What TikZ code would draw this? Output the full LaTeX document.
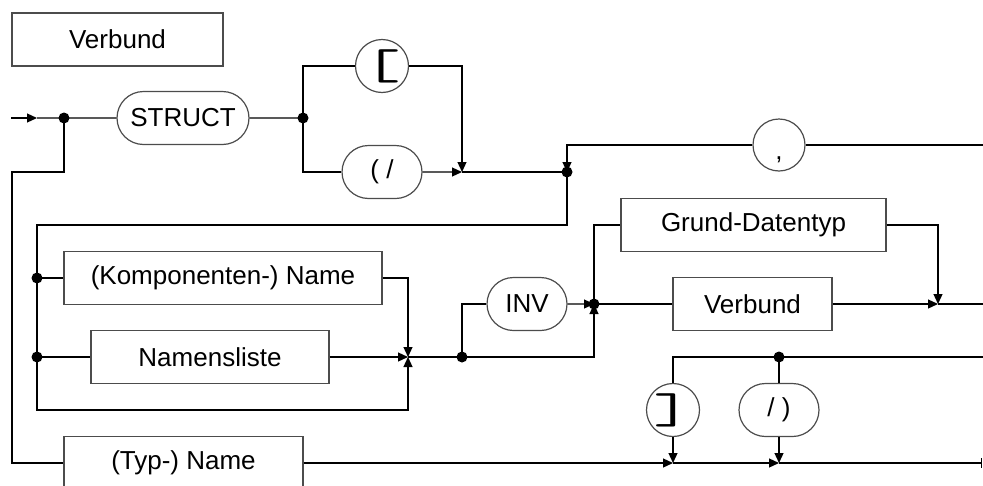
\documentclass[tikz,border=0pt]{standalone}
\usepackage{fontspec}
\setmainfont{Liberation Sans}
\usepackage{graphicx}
\usetikzlibrary{shapes.misc, arrows.meta}

\begin{document}
\begin{tikzpicture}[
    x=1pt, y=-1pt,
    line width=1.2pt,
    every node/.style={font=\fontsize{26}{30}\selectfont, inner sep=0pt},
    block/.style={rectangle, draw=black!70, fill=white,
                  minimum height=53pt, align=center},
    pill/.style={rounded rectangle, draw=black!70, fill=white,
                 minimum width=80pt, minimum height=53pt},
    token/.style={circle, draw=black!70, fill=white, minimum size=53pt},
    brk/.style={font=\fontsize{26}{30}\selectfont\ttfamily},
    arrow/.style={-{Triangle[length=10pt, width=9pt]}},
    endbar/.style={-{Bar[width=10pt]}},
]
\useasboundingbox (0,0) rectangle (983,485);

%% --- Title ---
\node[block, minimum width=211pt] (title) at (117.5,39.5) {Verbund};

%% --- Branch points and joins ---
\coordinate (in)  at (11,118);
\coordinate (inA) at (37,118);
\coordinate (d1)  at (64,118);
\coordinate (d2)  at (303,118);
\coordinate (j1)  at (462,172);
\coordinate (d3)  at (567,172);
\coordinate (lt)  at (37,225);
\coordinate (lb)  at (37,410);
\coordinate (d4)  at (37,278);
\coordinate (d5)  at (37,357);
\coordinate (j2)  at (408,357);
\coordinate (d6)  at (462,357);
\coordinate (d7)  at (594,304);
\coordinate (j3)  at (938,304);
\coordinate (d8)  at (779,357);
\coordinate (j4)  at (673,463);
\coordinate (j5)  at (779,463);
\coordinate (ol)  at (12,172);
\coordinate (cR)  at (983,145);
\coordinate (vR)  at (983,304);
\coordinate (rR)  at (983,357);
\coordinate (tR)  at (982,463);

%% --- Terminals and boxes ---
\node[pill, minimum width=132pt] (struct) at (183,118) {STRUCT};
\node[token, brk] (lbrack) at (382,66) {\scalebox{2.9}[1.65]{[}};
\node[pill] (open) at (382,172) {( /};
\node[token, minimum size=52pt] (comma) at (779,145) {\smash{\raisebox{-14pt}{,}}};
\node[block, minimum width=318pt] (komp) at (223,278) {(Komponenten-) Name};
\node[block, minimum width=238pt] (namen) at (210,357) {Namensliste};
\node[pill] (inv) at (527,304) {INV};
\node[block, minimum width=265pt] (grund) at (753.5,225) {Grund-Datentyp};
\node[block, minimum width=159pt] (verb) at (752.5,304) {Verbund};
\node[token, brk] (rbrack) at (673,410) {\scalebox{2.9}[1.65]{]}};
\node[pill, minimum width=80pt] (close) at (779,410) {/ )};
\node[block, minimum width=239pt] (typ) at (183.5,463) {(Typ-) Name};

%% --- STRUCT and opening bracket ---
\draw[arrow] (in) -- (inA);
\draw (inA) -- (struct) -- (d2);
\draw (d2) |- (lbrack);
\draw[arrow] (lbrack) -| (j1);
\draw (d2) |- (open);
\draw[arrow] (open) -- (j1);
\draw (j1) -- (d3);

%% --- Repeat with comma ---
\draw (cR) -- (comma);
\draw[arrow] (comma) -| (d3);

%% --- Component names ---
\draw[arrow] (d3) |- (lt) -- (lb) -| (j2);
\draw (d4) -- (komp);
\draw[arrow] (komp) -| (j2);
\draw (d5) -- (namen);
\draw[arrow] (namen) -- (j2);
\draw (j2) -- (d6);

%% --- INV and component type ---
\draw (d6) |- (inv);
\draw[arrow] (inv) -- (d7);
\draw[arrow] (d6) -| (d7);
\draw (d7) |- (grund);
\draw[arrow] (grund) -| (j3);
\draw (d7) -- (verb);
\draw[arrow] (verb) -- (j3);
\draw (j3) -- (vR);

%% --- Closing bracket ---
\draw (rR) -- (d8) -| (rbrack);
\draw (d8) -- (close);
\draw[arrow] (rbrack) -- (j4);
\draw[arrow] (close) -- (j5);

%% --- Type name ---
\draw (d1) |- (ol) |- (typ);
\draw[arrow] (typ) -- (j4);
\draw[arrow] (j4) -- (j5);
\draw[endbar] (j5) -- (tR);

%% --- Dots ---
\foreach \d in {d1,d2,d3,d4,d5,d6,d7,d8}
    \fill (\d) circle (5.5pt);

\end{tikzpicture}
\end{document}
